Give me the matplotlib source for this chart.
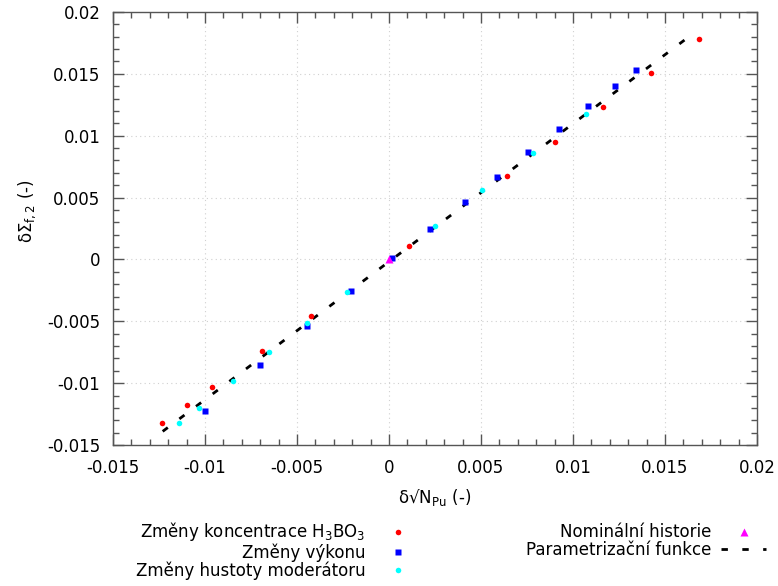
import numpy as np
import matplotlib
matplotlib.use("Agg")
import matplotlib.pyplot as plt
from matplotlib.ticker import MultipleLocator, AutoMinorLocator

# odectene hodnoty z grafu
boric_x = [-0.01235, -0.0110, -0.00964, -0.00692, -0.00424, 0.00109,
           0.0064, 0.00902, 0.01161, 0.01426, 0.01683]
boric_y = [-0.01322, -0.01177, -0.01031, -0.00743, -0.00457, 0.00111,
           0.00674, 0.00949, 0.01232, 0.01507, 0.01784]

power_x = [-0.00998, -0.00703, -0.00446, -0.00208, 0.00018, 0.00221,
           0.00411, 0.00585, 0.00757, 0.00926, 0.0108, 0.01227, 0.01344]
power_y = [-0.01223, -0.00851, -0.00536, -0.00253, 0.00009, 0.00246,
           0.00462, 0.00669, 0.00866, 0.01057, 0.01238, 0.0140, 0.01529]

moder_x = [-0.01143, -0.01034, -0.00846, -0.0065, -0.00444, -0.00226,
           0.00248, 0.00507, 0.00781, 0.01071]
moder_y = [-0.01322, -0.01198, -0.0098, -0.00751, -0.00514, -0.00266,
           0.00273, 0.00559, 0.0086, 0.01176]

nominal_x = [0.0]
nominal_y = [0.0]

fit_x = [-0.0123, 0.0163]
fit_y = [-0.0139, 0.0180]

xticks = [-0.015, -0.01, -0.005, 0, 0.005, 0.01, 0.015, 0.02]
tick_labels = ["-0.015", "-0.01", "-0.005", "0", "0.005", "0.01", "0.015", "0.02"]

fs = 12
plt.rcParams['font.family'] = ['DejaVu Sans']
plt.rcParams['font.size'] = fs

fig = plt.figure(figsize=(7.78, 5.86), dpi=100)
ax = fig.add_axes([113/778, 1-445/586, 644/778, 433/586])

ax.plot(fit_x, fit_y, color='black', lw=2, dashes=(2.3, 5.2),
        label='Parametrizační funkce', zorder=2)
ax.plot(boric_x, boric_y, 'o', color='red', ms=4, mec='none',
        label='Změny koncentrace H$_3$BO$_3$', zorder=3)
ax.plot(power_x, power_y, 's', color='blue', ms=4.3, mec='none',
        label='Změny výkonu', zorder=3)
ax.plot(moder_x, moder_y, 'o', color='cyan', ms=4, mec='none',
        label='Změny hustoty moderátoru', zorder=3)
ax.plot(nominal_x, nominal_y, '^', color='magenta', ms=5.5, mec='none',
        label='Nominální historie', zorder=3)

ax.set_xlim(-0.015, 0.02)
ax.set_ylim(-0.015, 0.02)
ax.set_xticks(xticks)
ax.set_xticklabels(tick_labels)
ax.set_yticks(xticks)
ax.set_yticklabels(tick_labels)
ax.xaxis.set_minor_locator(AutoMinorLocator(5))
ax.yaxis.set_minor_locator(AutoMinorLocator(5))
ax.tick_params(which='both', direction='in', top=True, right=True,
               color='#555555', labelsize=fs)
ax.tick_params(axis='x', which='major', length=8, width=1, pad=10)
ax.tick_params(axis='y', which='major', length=8, width=1, pad=9)
ax.tick_params(which='minor', length=4, width=1)
for s in ax.spines.values():
    s.set_color('#555555')
    s.set_linewidth(1)
ax.grid(True, which='major', color='#d0d0d0', ls=(0, (1, 3)), lw=0.8)

ax.set_xlabel('δ√N$_{\\mathrm{Pu}}$ (-)', fontsize=fs)
ax.set_ylabel('δΣ$_{\\mathrm{f,2}}$ (-)', fontsize=fs)
ax.xaxis.set_label_coords(0.5, -0.098)
ax.yaxis.set_label_coords(-0.116, 0.54)

h, l = ax.get_legend_handles_labels()
order = [1, 2, 3, 4, 0]
leg = fig.legend([h[i] for i in order], [l[i] for i in order], ncol=2,
                 markerfirst=False, frameon=False, numpoints=1,
                 loc='upper center', fontsize=fs,
                 handlelength=2.7, handletextpad=0.6, columnspacing=6.3,
                 labelspacing=-0.02, borderpad=0.3)
leg.set_bbox_to_anchor((0.58, 1 - 507/586), transform=fig.transFigure)

fig.savefig('out.png', dpi=100)
